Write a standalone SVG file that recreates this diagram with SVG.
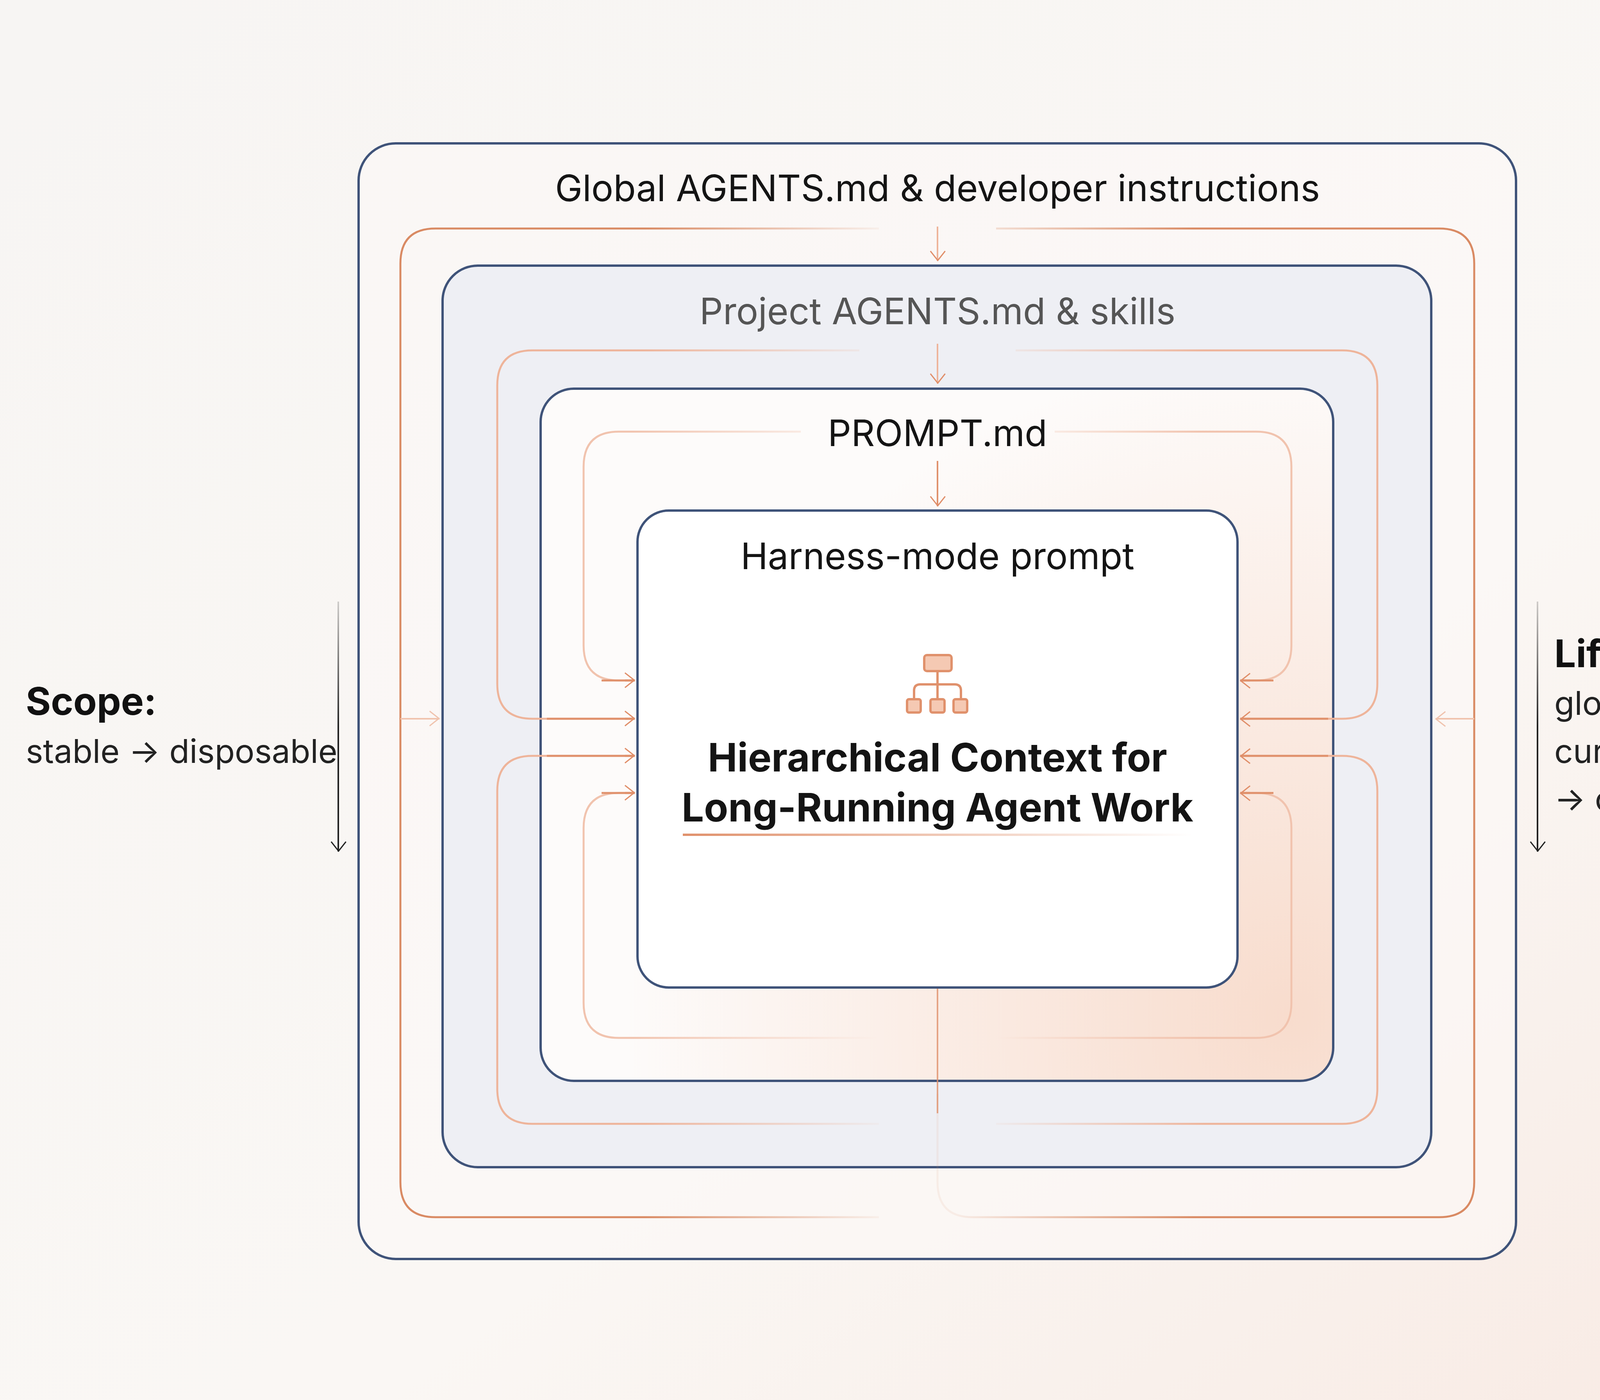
<svg xmlns="http://www.w3.org/2000/svg" width="4800" height="3584" viewBox="0 0 4800 3584">
<defs>
<style>
.box{stroke:#3f5379;stroke-width:6}
.t{font-family:Inter,"Liberation Sans",sans-serif;text-anchor:middle;fill:#141414}
.side{font-family:Inter,"Liberation Sans",sans-serif;fill:#222}
.l1,.l2,.l3{fill:none;stroke-width:5}
</style>
<linearGradient id="bg" x1="0" y1="0" x2="1" y2="1">
<stop offset="0" stop-color="#f7f5f3"/><stop offset="0.6" stop-color="#faf7f4"/><stop offset="1" stop-color="#f8e9e2"/>
</linearGradient>
<radialGradient id="pg" cx="3300" cy="2600" r="1700" gradientUnits="userSpaceOnUse">
<stop offset="0" stop-color="#f8dccd"/><stop offset="1" stop-color="#fdfbfa"/>
</radialGradient>
<linearGradient id="vk" gradientUnits="userSpaceOnUse" x1="0" y1="1540" x2="0" y2="2180"><stop offset="0" stop-color="#222" stop-opacity="0.2"/><stop offset="0.5" stop-color="#222"/></linearGradient>
<linearGradient id="L1" gradientUnits="userSpaceOnUse" x1="1000" y1="0" x2="2300" y2="0"><stop offset="0.5" stop-color="#d98a63"/><stop offset="1" stop-color="#d98a63" stop-opacity="0"/></linearGradient>
<linearGradient id="R1" gradientUnits="userSpaceOnUse" x1="2450" y1="0" x2="3800" y2="0"><stop offset="0" stop-color="#d98a63" stop-opacity="0.1"/><stop offset="0.45" stop-color="#d98a63"/></linearGradient>
<linearGradient id="L2" gradientUnits="userSpaceOnUse" x1="1000" y1="0" x2="2300" y2="0"><stop offset="0.5" stop-color="#eeb49a"/><stop offset="1" stop-color="#eeb49a" stop-opacity="0"/></linearGradient>
<linearGradient id="R2" gradientUnits="userSpaceOnUse" x1="2500" y1="0" x2="3800" y2="0"><stop offset="0" stop-color="#eeb49a" stop-opacity="0"/><stop offset="0.45" stop-color="#eeb49a"/></linearGradient>
<linearGradient id="L3" gradientUnits="userSpaceOnUse" x1="1200" y1="0" x2="2250" y2="0"><stop offset="0.4" stop-color="#f1c3ae"/><stop offset="1" stop-color="#f1c3ae" stop-opacity="0"/></linearGradient>
<linearGradient id="R3" gradientUnits="userSpaceOnUse" x1="2550" y1="0" x2="3600" y2="0"><stop offset="0" stop-color="#f1c3ae" stop-opacity="0"/><stop offset="0.5" stop-color="#f1c3ae"/></linearGradient>
<linearGradient id="ul" x1="0" y1="0" x2="1" y2="0"><stop offset="0" stop-color="#e0916c"/><stop offset="1" stop-color="#e0916c" stop-opacity="0"/></linearGradient>
<marker id="ao" viewBox="0 0 20 20" refX="18" refY="10" markerWidth="14" markerHeight="14" markerUnits="userSpaceOnUse" orient="auto" overflow="visible">
<path d="M-20 -20 L18 10 L-20 40" transform="scale(0.9)" fill="none" stroke="#e08e69" stroke-width="5"/>
</marker>
<marker id="af" viewBox="0 0 20 20" refX="18" refY="10" markerWidth="14" markerHeight="14" markerUnits="userSpaceOnUse" orient="auto" overflow="visible">
<path d="M-20 -20 L18 10 L-20 40" transform="scale(0.9)" fill="none" stroke="#f0c3ae" stroke-width="5"/>
</marker>
<marker id="ak" viewBox="0 0 20 20" refX="18" refY="10" markerWidth="14" markerHeight="14" markerUnits="userSpaceOnUse" orient="auto" overflow="visible">
<path d="M-20 -20 L18 10 L-20 40" transform="scale(0.9)" fill="none" stroke="#222" stroke-width="5"/>
</marker>
</defs>
<rect width="4800" height="3584" fill="url(#bg)"/>

<g id="global">
<rect class="box" x="918" y="367" width="2963" height="2856" rx="95" fill="#fbf9f7" fill-opacity="0.6"/>
<text class="t" x="2400" y="515" font-size="94">Global AGENTS.md &amp; developer instructions</text>
</g>
<g id="project">
<rect class="box" x="1133" y="680" width="2531" height="2308" rx="90" fill="#eeeff4"/>
<text class="t" x="2400" y="830" font-size="94" style="fill:#555">Project AGENTS.md &amp; skills</text>
</g>
<g id="promptmd">
<rect class="box" x="1384" y="995" width="2029" height="1772" rx="85" fill="url(#pg)"/>
<text class="t" x="2400" y="1142" font-size="94">PROMPT.md</text>
</g>

<g id="connectors">
<path class="l1" stroke="url(#L1)" d="M2250 585 H1115 Q1025 585 1025 675 V3026 Q1025 3116 1115 3116 H2250"/>
<path class="l1" stroke="url(#R1)" d="M2550 585 H3684 Q3774 585 3774 675 V3026 Q3774 3116 3684 3116 H2490 Q2400 3116 2400 3026 V2800"/>
<line x1="2400" y1="2528" x2="2400" y2="2850" stroke="#e0916c" stroke-width="4" stroke-opacity="0.8"/>
<line x1="1025" y1="1840" x2="1125" y2="1840" stroke="#f0c3ae" stroke-width="4" marker-end="url(#af)"/>
<line x1="3774" y1="1840" x2="3675" y2="1840" stroke="#f0c3ae" stroke-width="4" marker-end="url(#af)"/>

<path class="l2" stroke="url(#L2)" d="M2200 897 H1363 Q1273 897 1273 987 V1750 Q1273 1840 1363 1840 H1625"/>
<path class="l2" stroke="url(#L2)" d="M2250 2877 H1363 Q1273 2877 1273 2787 V2025 Q1273 1935 1363 1935 H1625"/>
<path class="l2" stroke="url(#R2)" d="M2600 897 H3436 Q3526 897 3526 987 V1750 Q3526 1840 3436 1840 H3175"/>
<path class="l2" stroke="url(#R2)" d="M2550 2877 H3436 Q3526 2877 3526 2787 V2025 Q3526 1935 3436 1935 H3175"/>
<path d="M1400 1840 H1625 M1400 1935 H1625 M3400 1840 H3175 M3400 1935 H3175" stroke="#e0916c" stroke-width="5" fill="none"/>

<path class="l3" stroke="url(#L3)" d="M2050 1105 H1584 Q1494 1105 1494 1195 V1652 Q1494 1742 1584 1742 H1625"/>
<path class="l3" stroke="url(#L3)" d="M2250 2657 H1584 Q1494 2657 1494 2567 V2120 Q1494 2030 1584 2030 H1625"/>
<path class="l3" stroke="url(#R3)" d="M2700 1105 H3216 Q3306 1105 3306 1195 V1652 Q3306 1742 3216 1742 H3175"/>
<path class="l3" stroke="url(#R3)" d="M2550 2657 H3216 Q3306 2657 3306 2567 V2120 Q3306 2030 3216 2030 H3175"/>
<path d="M1540 1742 H1625 M1540 2030 H1625 M3260 1742 H3175 M3260 2030 H3175" stroke="#e0916c" stroke-width="5" fill="none"/>
<line x1="1600" y1="1742" x2="1625" y2="1742" stroke="#e0916c" stroke-width="5" marker-end="url(#ao)"/>
<line x1="1600" y1="1840" x2="1625" y2="1840" stroke="#e0916c" stroke-width="5" marker-end="url(#ao)"/>
<line x1="1600" y1="1935" x2="1625" y2="1935" stroke="#e0916c" stroke-width="5" marker-end="url(#ao)"/>
<line x1="1600" y1="2030" x2="1625" y2="2030" stroke="#e0916c" stroke-width="5" marker-end="url(#ao)"/>
<line x1="3200" y1="1742" x2="3175" y2="1742" stroke="#e0916c" stroke-width="5" marker-end="url(#ao)"/>
<line x1="3200" y1="1840" x2="3175" y2="1840" stroke="#e0916c" stroke-width="5" marker-end="url(#ao)"/>
<line x1="3200" y1="1935" x2="3175" y2="1935" stroke="#e0916c" stroke-width="5" marker-end="url(#ao)"/>
<line x1="3200" y1="2030" x2="3175" y2="2030" stroke="#e0916c" stroke-width="5" marker-end="url(#ao)"/>
<line x1="2400" y1="580" x2="2400" y2="668" stroke="#eeb49a" stroke-width="4" marker-end="url(#ao)"/>
<line x1="2400" y1="880" x2="2400" y2="982" stroke="#eeb49a" stroke-width="4" marker-end="url(#ao)"/>
<line x1="2400" y1="1180" x2="2400" y2="1296" stroke="#e0916c" stroke-width="4" marker-end="url(#ao)"/>
<path d="M866 1540 V2180" stroke="url(#vk)" stroke-width="4" marker-end="url(#ak)"/>
<path d="M3936 1540 V2180" stroke="url(#vk)" stroke-width="4" marker-end="url(#ak)"/>
</g>

<g id="harness">
<rect class="box" x="1632" y="1307" width="1536" height="1221" rx="80" fill="#ffffff"/>
<text class="t" x="2400" y="1457" font-size="94">Harness-mode prompt</text>
<g id="icon" stroke="#e0916c" stroke-width="6" fill="#f5c9b3">
<rect x="2366" y="1677" width="70" height="41" rx="7"/>
<rect x="2322" y="1790" width="35" height="34" rx="5"/>
<rect x="2382" y="1790" width="36" height="34" rx="5"/>
<rect x="2441" y="1790" width="35" height="34" rx="5"/>
<path d="M2400 1718 V1790 M2340 1790 V1768 Q2340 1752 2356 1752 H2444 Q2460 1752 2460 1768 V1790" fill="none"/>
</g>
<text class="t" x="2400" y="1975" font-size="101" font-weight="700">Hierarchical Context for</text>
<text class="t" x="2400" y="2103" font-size="101" font-weight="700">Long-Running Agent Work</text>
<rect x="1748" y="2134" width="1304" height="6" fill="url(#ul)"/>
</g>

<g id="scope">
<text class="side" x="66" y="1830" font-size="98" font-weight="700" style="fill:#111">Scope:</text>
<text class="side" x="66" y="1953" font-size="84">stable → disposable</text>
</g>
<g id="lifecycle">
<text class="side" x="3979" y="1708" font-size="98" font-weight="700" style="fill:#111">Lifecycle:</text>
<text class="side" x="3979" y="1830" font-size="84">global → project →</text>
<text class="side" x="3979" y="1953" font-size="84">current task bundle</text>
<text class="side" x="3979" y="2075" font-size="84">→ current prompt</text>
</g>
</svg>
